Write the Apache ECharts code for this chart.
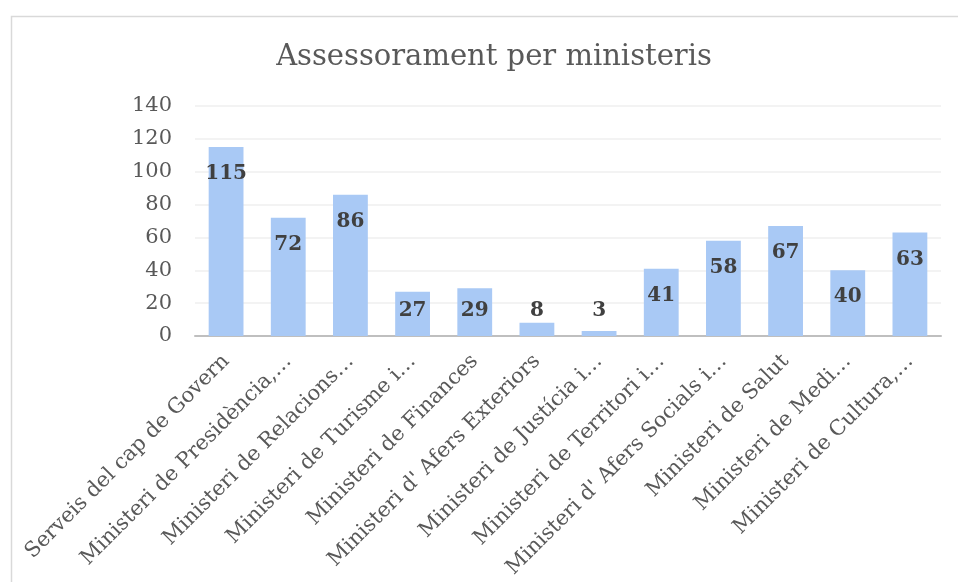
<!DOCTYPE html>
<html>
<head>
<meta charset="utf-8">
<title>Assessorament per ministeris</title>
<script src="https://cdn.jsdelivr.net/npm/echarts@6/dist/echarts.min.js"></script>
<style>
  html, body { margin: 0; padding: 0; background: #fff; }
  #chart { width: 958px; height: 582px; }
</style>
</head>
<body>
<div id="chart"></div>
<script>
const FONT = '"DejaVu Serif", serif';

// categories as printed on the axis (already shortened in the source)
var ministeris = [
    'Serveis del cap de Govern',
    'Ministeri de Presidència,…',
    'Ministeri de Relacions…',
    'Ministeri de Turisme i…',
    'Ministeri de Finances',
    "Ministeri d' Afers Exteriors",
    'Ministeri de Justícia i…',
    'Ministeri de Territori i…',
    "Ministeri d' Afers Socials i…",
    'Ministeri de Salut',
    'Ministeri de Medi…',
    'Ministeri de Cultura,…'
];
var assessoraments = [115, 72, 86, 27, 29, 8, 3, 41, 58, 67, 40, 63];
var yTicks = { min: 0, max: 140, interval: 20 };

var chart = echarts.init(document.getElementById('chart'));

var option = {
    backgroundColor: '#fff',
    animation: false,
    title: {
        text: 'Assessorament per ministeris',
        left: 489,
        top: 38,
        textAlign: 'center',
        textStyle: {
            fontFamily: FONT,
            fontSize: 29,
            fontWeight: 'normal',
            color: '#595959'
        }
    },
    graphic: [{
        type: 'rect',
        left: 9,
        top: 14,
        shape: { width: 960, height: 600 },
        style: { fill: 'none', stroke: '#d9d9d9', lineWidth: 1.5 },
        silent: true
    }],
    grid: {
        left: 195,
        right: 17,
        top: 106,
        bottom: 246
    },
    xAxis: {
        type: 'category',
        data: ministeris,
        axisLine: { lineStyle: { color: '#bfbfbf', width: 2 } },
        axisTick: { show: false },
        axisLabel: {
            interval: 0,
            rotate: 45,
            margin: 22,
            fontFamily: FONT,
            fontSize: 21,
            color: '#595959'
        }
    },
    yAxis: {
        type: 'value',
        min: yTicks.min,
        max: yTicks.max,
        interval: yTicks.interval,
        axisLine: { show: false },
        axisTick: { show: false },
        splitLine: { lineStyle: { color: '#efefef', width: 1.5 } },
        axisLabel: {
            margin: 23,
            fontFamily: FONT,
            fontSize: 21,
            color: '#595959'
        }
    },
    series: [{
        type: 'bar',
        data: assessoraments,
        barCategoryGap: '44%',
        itemStyle: { color: '#a9c9f5' },
        label: {
            show: true,
            position: 'inside',
            fontFamily: FONT,
            fontSize: 20,
            fontWeight: 'bold',
            color: '#404040'
        },
        // inside end, but never lower than just above the axis
        labelLayout: function (p) {
            var bottom = p.rect.y + p.rect.height;
            return {
                x: p.rect.x + p.rect.width / 2,
                y: Math.min(p.rect.y + 27, bottom - 25),
                align: 'center',
                verticalAlign: 'middle'
            };
        }
    }]
};

chart.setOption(option);
</script>
</body>
</html>
